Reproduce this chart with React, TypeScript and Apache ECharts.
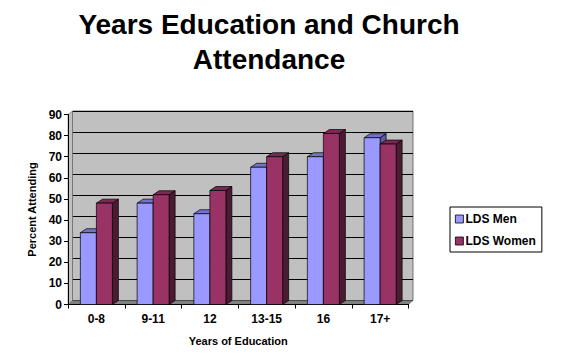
import React, { useEffect, useRef } from "react";
import * as echarts from "echarts";

const categories = ["0-8", "9-11", "12", "13-15", "16", "17+"];
const menValues = [34, 48, 43, 65, 70, 79];
const womenValues = [48, 52, 54, 70, 81, 76];
const yTicks = [0, 10, 20, 30, 40, 50, 60, 70, 80, 90];

const FONT = "'Liberation Sans', Arial, sans-serif";

const palettes = {
  men: { front: "#9999FF", top: "#7373C6", side: "#5B5BA0" },
  women: { front: "#993366", top: "#7A2952", side: "#4C1A33" },
};

function make3DRender(kind: "men" | "women") {
  const pal = palettes[kind];
  return (params: any, api: any) => {
    const cat = api.value(0);
    const val = api.value(1);
    const top = api.coord([cat, val]);
    const base = api.coord([cat, 0]);
    const band = api.size([1, 0])[0];
    const w = band * 0.282;
    const x0 = kind === "men" ? top[0] - w : top[0];
    const x1 = x0 + w;
    const yt = top[1];
    const yb = base[1];
    const dx = 6;
    const dy = -4;
    const stroke = { stroke: "#000", lineWidth: 0.7 };
    return {
      type: "group",
      children: [
        {
          type: "polygon",
          shape: { points: [[x1, yt], [x1 + dx, yt + dy], [x1 + dx, yb + dy], [x1, yb]] },
          style: { fill: pal.side, ...stroke },
        },
        {
          type: "polygon",
          shape: { points: [[x0, yt], [x0 + dx, yt + dy], [x1 + dx, yt + dy], [x1, yt]] },
          style: { fill: pal.top, ...stroke },
        },
        {
          type: "rect",
          shape: { x: x0, y: yt, width: w, height: yb - yt },
          style: { fill: pal.front, ...stroke },
        },
      ],
    };
  };
}

export default function App() {
  const ref = useRef<HTMLDivElement>(null);
  useEffect(() => {
    if (!ref.current) return;
    const chart = echarts.init(ref.current, undefined, { renderer: "svg" });
    const labelStyle = { color: "#000", fontWeight: "bold" as const, fontSize: 11, fontFamily: FONT };
    chart.setOption({
      animation: false,
      backgroundColor: "#fff",
      title: {
        text: "Years Education and Church\nAttendance",
        left: 264,
        top: 2,
        textAlign: "center",
        textStyle: { fontSize: 28, fontWeight: "bold", fontFamily: FONT, color: "#000", lineHeight: 35 },
      },
      legend: {
        orient: "vertical",
        left: 450,
        top: 207,
        width: 93,
        padding: [6, 6, 5, 5],
        backgroundColor: "#fff",
        borderColor: "#000",
        borderWidth: 1,
        itemWidth: 8,
        itemHeight: 8,
        itemGap: 10,
        icon: "rect",
        itemStyle: { borderColor: "#000", borderWidth: 0.8 },
        textStyle: { ...labelStyle, fontSize: 12, padding: [0, 0, 0, -3] },
        data: ["LDS Men", "LDS Women"],
      },
      graphic: [
        {
          type: "polygon",
          z: 1,
          shape: { points: [[68, 304.5], [408.5, 304.5], [413, 300.5], [72.5, 300.5]] },
          style: { fill: "#808080", stroke: "#555", lineWidth: 0.5 },
        },
        {
          type: "polygon",
          z: 1,
          shape: { points: [[68, 114.5], [72.5, 111], [72.5, 300.5], [68, 304.5]] },
          style: { fill: "#C0C0C0", stroke: "#555", lineWidth: 0.5 },
        },
      ],
      grid: [
        { left: 68, right: 153.5, top: 114.5, bottom: 53.5, show: false },
        {
          left: 72.5,
          right: 149,
          top: 111,
          bottom: 57.5,
          show: true,
          backgroundColor: "#C0C0C0",
          borderColor: "#555",
          borderWidth: 0.8,
          z: 0,
        },
      ],
      xAxis: [
        {
          type: "category",
          gridIndex: 0,
          data: categories,
          name: "Years of Education",
          nameLocation: "middle",
          nameGap: 31,
          nameTextStyle: labelStyle,
          axisLine: { show: true, lineStyle: { color: "#000", width: 1 } },
          axisTick: { show: true, length: 4, lineStyle: { color: "#000" } },
          axisLabel: { ...labelStyle, fontSize: 12, margin: 8 },
          splitLine: { show: false },
          z: 3,
        },
        {
          type: "category",
          gridIndex: 1,
          data: categories,
          show: false,
        },
      ],
      yAxis: [
        {
          type: "value",
          gridIndex: 0,
          min: 0,
          max: 90,
          interval: 10,
          name: "Percent Attending",
          nameLocation: "middle",
          nameGap: 31,
          nameTextStyle: labelStyle,
          axisLine: { show: true, lineStyle: { color: "#000", width: 1 } },
          axisTick: { show: true, length: 4, lineStyle: { color: "#000" } },
          axisLabel: { ...labelStyle, fontSize: 12, margin: 6, formatter: (v: number) => (yTicks.includes(v) ? String(v) : "") },
          splitLine: { show: false },
          z: 3,
        },
        {
          type: "value",
          gridIndex: 1,
          min: 0,
          max: 90,
          interval: 10,
          axisLine: { show: false },
          axisTick: { show: false },
          axisLabel: { show: false },
          splitLine: { show: true, lineStyle: { color: "#000", width: 1 } },
        },
      ],
      series: [
        {
          name: "LDS Men",
          type: "custom",
          xAxisIndex: 0,
          yAxisIndex: 0,
          z: 5,
          itemStyle: { color: palettes.men.front },
          renderItem: make3DRender("men"),
          encode: { x: 0, y: 1 },
          data: menValues.map((v, i) => [i, v]),
        },
        {
          name: "LDS Women",
          type: "custom",
          xAxisIndex: 0,
          yAxisIndex: 0,
          z: 6,
          itemStyle: { color: palettes.women.front },
          renderItem: make3DRender("women"),
          encode: { x: 0, y: 1 },
          data: womenValues.map((v, i) => [i, v]),
        },
      ],
    });
    return () => chart.dispose();
  }, []);
  return <div ref={ref} style={{ width: 562, height: 358, position: "absolute", left: 0, top: 0 }} />;
}
